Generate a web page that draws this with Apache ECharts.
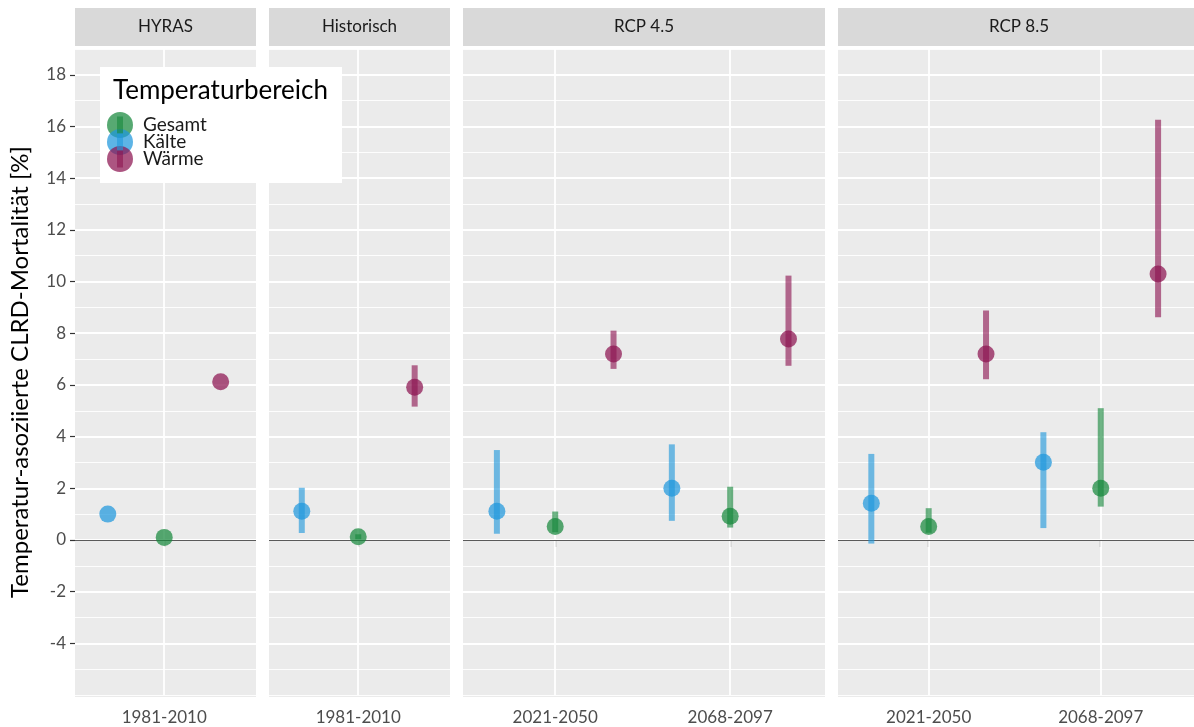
<!DOCTYPE html>
<html><head><meta charset="utf-8">
<script src="https://cdn.jsdelivr.net/npm/echarts@6/dist/echarts.min.js"></script>
<style>html,body{margin:0;padding:0;background:#fff}#c{width:1194px;height:727px}</style>
</head><body><div id="c"></div>
<script>
// ---- data ----
const panels = ['HYRAS', 'Historisch', 'RCP 4.5', 'RCP 8.5'];
const periods = [['1981-2010'], ['1981-2010'], ['2021-2050', '2068-2097'], ['2021-2050', '2068-2097']];
const groups = ['Gesamt', 'Kälte', 'Wärme'];
const yTickValues = [-4, -2, 0, 2, 4, 6, 8, 10, 12, 14, 16, 18];

const gesamtMean = [[0.1], [0.12], [0.52, 0.92], [0.52, 2.0]];
const gesamtLow  = [[null], [0.03], [0.3, 0.48], [0.28, 1.29]];
const gesamtHigh = [[null], [0.22], [1.1, 2.06], [1.23, 5.1]];

const kaelteMean = [[1.0], [1.11], [1.11, 2.0], [1.42, 3.01]];
const kaelteLow  = [[null], [0.27], [0.24, 0.74], [-0.14, 0.46]];
const kaelteHigh = [[null], [2.02], [3.48, 3.70], [3.33, 4.17]];

const waermeMean = [[6.12], [5.91], [7.2, 7.78], [7.2, 10.29]];
const waermeLow  = [[null], [5.16], [6.62, 6.74], [6.22, 8.62]];
const waermeHigh = [[null], [6.76], [8.1, 10.23], [8.88, 16.26]];

// ---- styling / layout ----
const colors = { 'Gesamt': '#16883c', 'Kälte': '#1f97dc', 'Wärme': '#8c1450' };
const dodgeSlot = { 'Kälte': -1, 'Gesamt': 0, 'Wärme': 1 };
const dodgeWidth = 1 / 3;
const stats = {
  'Gesamt': [gesamtMean, gesamtLow, gesamtHigh],
  'Kälte': [kaelteMean, kaelteLow, kaelteHigh],
  'Wärme': [waermeMean, waermeLow, waermeHigh]
};
const gridLeft = [75, 269, 463, 838];
const gridWidth = [181, 181, 362, 362];
const TOP = 49, HEIGHT = 646, PANEL_BOTTOM = 697;
const FONT = 'Lato';

const grids = [], xAxes = [], yAxes = [], series = [], graphics = [];

panels.forEach((p, i) => {
  const n = periods[i].length;
  grids.push({ left: gridLeft[i], top: TOP, width: gridWidth[i], height: HEIGHT, containLabel: false });
  const catVals = periods[i].map((_, k) => k + 1);
  xAxes.push({
    gridIndex: i, type: 'value', min: 1 - 0.527, max: n + 0.542,
    axisLine: { show: false }, splitLine: { show: false },
    axisTick: { show: true, customValues: catVals, length: 7, lineStyle: { color: '#333', width: 1.2 } },
    axisLabel: { customValues: catVals, formatter: v => periods[i][Math.round(v) - 1] || '',
      margin: 14, fontSize: 17, color: '#4d4d4d', fontFamily: FONT }
  });
  // minor grid (every unit)
  yAxes.push({
    gridIndex: i, type: 'value', min: -6, max: 19, interval: 1, position: 'left',
    axisLine: { show: false }, axisTick: { show: false }, axisLabel: { show: false },
    splitLine: { show: true, lineStyle: { color: '#ffffff', width: 0.9 } }
  });
  // major grid + labels
  yAxes.push({
    gridIndex: i, type: 'value', min: -6, max: 19, interval: 2, position: 'left',
    axisLine: { show: false },
    axisTick: { show: i === 0, customValues: yTickValues, length: 5, lineStyle: { color: '#333', width: 1.2 } },
    axisLabel: { show: i === 0, customValues: yTickValues, margin: 9, fontSize: 17, color: '#4d4d4d', fontFamily: FONT,
      formatter: v => (yTickValues.indexOf(v) >= 0 ? String(v) : '') },
    splitLine: { show: true, lineStyle: { color: '#ffffff', width: 1.8 } },
    name: i === 0 ? 'Temperatur-asoziierte CLRD-Mortalität [%]' : '',
    nameLocation: 'middle', nameGap: 43,
    nameTextStyle: { fontSize: 24, color: '#000', fontFamily: FONT }
  });

  // panel background & strip
  graphics.push({ type: 'rect', z: -10, silent: true,
    shape: { x: gridLeft[i], y: TOP, width: gridWidth[i], height: PANEL_BOTTOM - TOP }, style: { fill: '#ebebeb' } });
  graphics.push({ type: 'rect', z: 1, silent: true,
    shape: { x: gridLeft[i], y: 8, width: gridWidth[i], height: 38 }, style: { fill: '#d9d9d9' } });
  graphics.push({ type: 'text', z: 2, silent: true, x: gridLeft[i] + gridWidth[i] / 2, y: 27,
    style: { text: p, textAlign: 'center', textVerticalAlign: 'middle', font: '17px ' + FONT, fill: '#1a1a1a' } });

  // vertical grid lines at category positions + zero line
  series.push({
    type: 'scatter', xAxisIndex: i, yAxisIndex: 2 * i + 1, data: [], z: 1, silent: true,
    markLine: {
      silent: true, symbol: ['none', 'none'], label: { show: false }, animation: false,
      data: catVals.map(v => ({ xAxis: v, lineStyle: { color: '#ffffff', width: 1.8, type: 'solid' } }))
        .concat([{ yAxis: 0, lineStyle: { color: '#5a5a5a', width: 1.2, type: 'solid' } }])
    }
  });
});

// points first (legend visuals), then error bars
panels.forEach((p, i) => {
  groups.forEach(g => {
    const [mean] = stats[g];
    series.push({
      name: g, type: 'scatter', xAxisIndex: i, yAxisIndex: 2 * i + 1, z: 8,
      symbol: 'circle', symbolSize: 17,
      itemStyle: { color: colors[g], opacity: 0.72 },
      data: mean[i].map((v, k) => [k + 1 + dodgeSlot[g] * dodgeWidth, v])
    });
  });
});
panels.forEach((p, i) => {
  groups.forEach(g => {
    const [mean, low, high] = stats[g];
    const d = [];
    mean[i].forEach((v, k) => {
      if (low[i][k] != null && high[i][k] != null) d.push([k + 1 + dodgeSlot[g] * dodgeWidth, low[i][k], high[i][k]]);
    });
    series.push({
      name: g, type: 'custom', xAxisIndex: i, yAxisIndex: 2 * i + 1, z: 7,
      encode: { x: 0, y: [1, 2] },
      data: d,
      renderItem: (params, api) => {
        const x = api.value(0);
        const pHi = api.coord([x, api.value(2)]);
        const pLo = api.coord([x, api.value(1)]);
        return { type: 'rect', shape: { x: pHi[0] - 3, y: pHi[1], width: 6, height: pLo[1] - pHi[1] },
          style: { fill: colors[g], opacity: 0.62 } };
      }
    });
  });
});

// legend box
graphics.push({ type: 'rect', z: 10, silent: true, shape: { x: 100, y: 67, width: 242, height: 116 }, style: { fill: '#ffffff' } });
graphics.push({ type: 'text', z: 11, silent: true, x: 113, y: 91,
  style: { text: 'Temperaturbereich', textVerticalAlign: 'middle', font: '26px ' + FONT, fill: '#000' } });
groups.forEach((g, k) => {
  graphics.push({ type: 'rect', z: 30, silent: true,
    shape: { x: 117, y: 125 + k * 17 - 8.5, width: 6, height: 17 }, style: { fill: colors[g], opacity: 0.6 } });
});

const option = {
  animation: false,
  backgroundColor: '#ffffff',
  textStyle: { fontFamily: FONT },
  grid: grids, xAxis: xAxes, yAxis: yAxes, series: series,
  legend: {
    z: 20, orient: 'vertical', left: 107, top: 112, itemWidth: 26, itemHeight: 26, itemGap: -9,
    selectedMode: false, padding: 0,
    data: groups.map(g => ({ name: g, icon: 'circle', itemStyle: { color: colors[g], opacity: 0.72 } })),
    textStyle: { fontSize: 19, color: '#1a1a1a', fontFamily: FONT, padding: [0, 0, 0, 5] }
  },
  graphic: graphics
};
const chart = echarts.init(document.getElementById('c'));
chart.setOption(option);
</script></body></html>
